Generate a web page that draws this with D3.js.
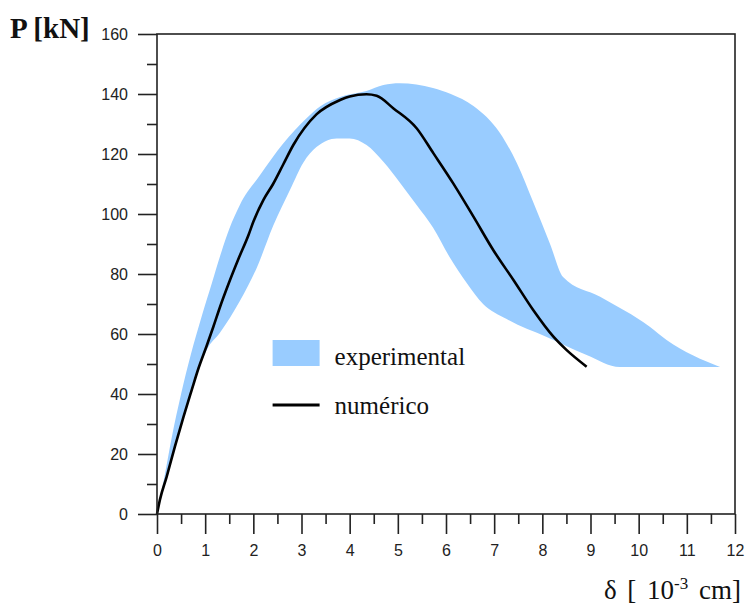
<!DOCTYPE html>
<html>
<head>
<meta charset="utf-8">
<script src="https://cdn.jsdelivr.net/npm/d3@7"></script>
<style>
  html, body { margin: 0; padding: 0; background: #fff; }
  svg { display: block; }
</style>
</head>
<body>
<svg id="chart" width="749" height="605"></svg>
<script>
// Experimental envelope: upper and lower bounds, [delta (1e-3 cm), P (kN)]
const expUpper = [
  [0, 0], [0.15, 12], [0.3, 25], [0.5, 40], [0.7, 53], [0.93, 66],
  [1.14, 77], [1.34, 87.5], [1.5, 95], [1.72, 103], [2.14, 113],
  [2.62, 123.5], [3.11, 132], [3.4, 136], [3.8, 139], [4.35, 141],
  [4.7, 143], [5.04, 143.6], [5.73, 142], [6.1, 140], [6.57, 136],
  [7.12, 127], [7.47, 117], [7.81, 104], [8.16, 90], [8.43, 79],
  [9.2, 72.4], [10.23, 62.4], [10.58, 58], [11.69, 49]
];
const expLower = [
  [0, 0], [0.06, 4.7], [0.37, 22.4], [0.72, 41.3], [1.03, 54.7], [1.31, 60.5],
  [1.72, 71], [2.07, 82], [2.41, 96], [2.76, 108], [3.04, 117.2],
  [3.31, 122.3], [3.73, 125.2], [4.0, 125.2], [4.35, 123], [4.7, 117.4],
  [5.04, 110.5], [5.39, 103], [5.73, 95.5], [6.08, 85.5], [6.43, 77],
  [6.77, 70], [7.26, 65], [8.09, 59], [8.92, 53], [9.61, 49], [11.69, 49]
];
// Numerical load-displacement curve
const numerico = [
  [0, 0], [0.06, 4.7], [0.2, 12.4], [0.37, 22.4], [0.55, 32.4], [0.72, 41.3],
  [0.86, 48.5], [1.03, 56], [1.17, 62.4], [1.31, 69.1], [1.48, 76.5],
  [1.69, 85], [1.9, 93], [2.0, 97.4], [2.21, 104.7], [2.41, 110],
  [2.62, 116.5], [2.83, 123], [3.31, 133.2], [3.8, 138], [4.0, 139.2],
  [4.35, 139.9], [4.56, 139.4], [4.91, 135.2], [5.39, 128.6], [5.74, 120.2],
  [6.15, 110.2], [6.57, 99.1], [6.98, 88], [7.4, 78], [7.81, 68],
  [8.23, 59.1], [8.5, 54.7], [8.92, 49.1]
];
const xMajorTicks = [0, 1, 2, 3, 4, 5, 6, 7, 8, 9, 10, 11, 12];
const xMinorTicks = [0.5, 1.5, 2.5, 3.5, 4.5, 5.5, 6.5, 7.5, 8.5, 9.5, 10.5, 11.5];
const yMajorTicks = [0, 20, 40, 60, 80, 100, 120, 140, 160];
const yMinorTicks = [10, 30, 50, 70, 90, 110, 130, 150];
const legendLabels = ["experimental", "numérico"];

const svg = d3.select("#chart");
const margin = { left: 157, top: 34, right: 14, bottom: 91 };
const W = 749 - margin.left - margin.right;
const H = 605 - margin.top - margin.bottom;

const x = d3.scaleLinear().domain([0, 12]).range([0, W]);
const y = d3.scaleLinear().domain([0, 160]).range([H, 0]);

const g = svg.append("g").attr("transform", `translate(${margin.left},${margin.top})`);

const bandColor = "#99ccff";
const axisColor = "#222";

// Experimental envelope: smooth upper edge out, lower edge back, closed
const edge = d3.line().x(d => x(d[0])).y(d => y(d[1])).curve(d3.curveMonotoneX);
const envelopePath = edge(expUpper) +
  edge(expLower.slice().reverse()).replace(/^M/, "L") + "Z";
g.append("path")
  .attr("d", envelopePath)
  .attr("fill", bandColor)
  .attr("stroke", "none");

// Numerical curve
g.append("path")
  .datum(numerico)
  .attr("d", d3.line().x(d => x(d[0])).y(d => y(d[1])).curve(d3.curveMonotoneX))
  .attr("fill", "none")
  .attr("stroke", "#000")
  .attr("stroke-width", 2.6)
  .attr("stroke-linejoin", "round");

// Frame
g.append("rect")
  .attr("x", 0).attr("y", 0).attr("width", W).attr("height", H)
  .attr("fill", "none").attr("stroke", axisColor).attr("stroke-width", 1.6);

// X axis: major ticks with labels, then minor ticks
const xAxis = d3.axisBottom(x).tickValues(xMajorTicks).tickSize(20).tickPadding(11)
  .tickFormat(d3.format("d"));
const xg = g.append("g").attr("transform", `translate(0,${H})`).call(xAxis);
const xMinor = g.append("g").attr("transform", `translate(0,${H})`)
  .call(d3.axisBottom(x).tickValues(xMinorTicks).tickSize(10).tickFormat(""));

// Y axis
const yAxis = d3.axisLeft(y).tickValues(yMajorTicks).tickSize(19).tickPadding(10)
  .tickFormat(d3.format("d"));
const yg = g.append("g").call(yAxis);
const yMinor = g.append("g")
  .call(d3.axisLeft(y).tickValues(yMinorTicks).tickSize(10).tickFormat(""));

[xg, xMinor, yg, yMinor].forEach(a => {
  a.select(".domain").remove();
  a.selectAll(".tick line").attr("stroke", axisColor).attr("stroke-width", 1.6);
  a.selectAll(".tick text")
    .attr("fill", "#222")
    .style("font-family", "'Liberation Sans', Arial, sans-serif")
    .style("font-size", "16px");
});

// Axis titles
svg.append("text")
  .attr("x", 10).attr("y", 38)
  .style("font-family", "'Liberation Serif', 'Times New Roman', serif")
  .style("font-weight", "bold")
  .style("font-size", "29px")
  .attr("fill", "#111")
  .text("P [kN]");

const xt = svg.append("text")
  .attr("x", 741).attr("y", 599)
  .attr("text-anchor", "end")
  .style("font-family", "'Liberation Serif', 'Times New Roman', serif")
  .style("font-size", "27px")
  .style("word-spacing", "4px")
  .attr("fill", "#111");
xt.append("tspan").text("δ [ 10");
xt.append("tspan").attr("dy", -10).style("font-size", "17px").text("-3");
xt.append("tspan").attr("dy", 10).text(" cm]");

// Legend
const lg = g.append("g");
const lx = x(2.4), ly = y(58);
lg.append("rect")
  .attr("x", lx).attr("y", ly)
  .attr("width", 47).attr("height", 26)
  .attr("fill", bandColor);
lg.append("line")
  .attr("x1", lx).attr("x2", lx + 47)
  .attr("y1", ly + 65).attr("y2", ly + 65)
  .attr("stroke", "#000").attr("stroke-width", 3);
lg.selectAll("text.leg")
  .data(legendLabels)
  .join("text")
  .attr("class", "leg")
  .attr("x", lx + 62)
  .attr("y", (d, i) => ly + 25 + i * 49)
  .style("font-family", "'Liberation Serif', 'Times New Roman', serif")
  .style("font-size", "25px")
  .attr("fill", "#111")
  .text(d => d);
</script>
</body>
</html>
